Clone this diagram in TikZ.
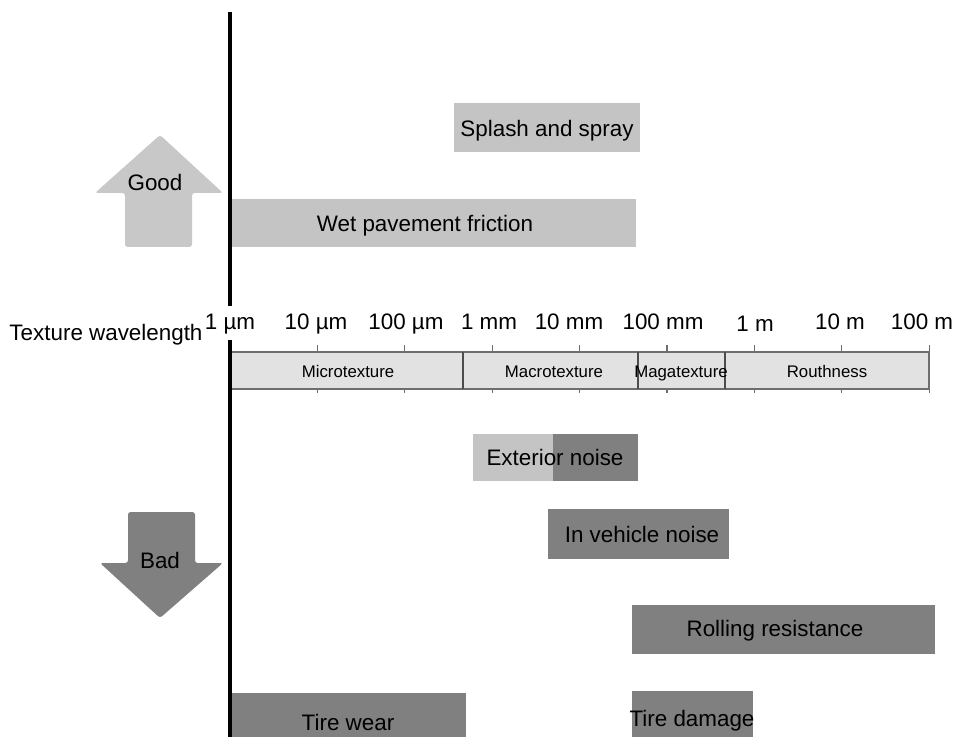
\documentclass[tikz,border=0pt]{standalone}
\usepackage{fontspec}
\setmainfont{Liberation Sans}
\usepackage{tikz}
\usetikzlibrary{positioning,calc}
\definecolor{barLight}{RGB}{196, 196, 196}
\definecolor{barDark}{RGB}{128, 128, 128}
\definecolor{rulerFill}{RGB}{226, 226, 226}
\definecolor{rulerLine}{RGB}{110, 110, 110}
\definecolor{arrowGood}{RGB}{200, 200, 200}

\begin{document}
\begin{tikzpicture}[x=0.75pt, y=-0.75pt,
    bigtext/.style={font=\fontsize{16.8pt}{19pt}\selectfont, inner sep=0pt, text height=12pt, text depth=3.5pt, yshift=-1.7pt},
    smalltext/.style={font=\fontsize{12.6pt}{14pt}\selectfont, inner sep=0pt, text height=9pt, text depth=2.5pt, yshift=-1.2pt},
    ticklabel/.style={bigtext, anchor=center}]
    \useasboundingbox (0,0) rectangle (955,737);

    % good / bad arrows
    \fill[arrowGood, rounded corners=2pt] (125,247) -- (125,193) -- (95,193) -- (160,135) -- (223,193) -- (192,193) -- (192,247) -- cycle;
    \node[bigtext] (good) at (155,183) {Good};
    \fill[barDark, rounded corners=2pt] (128,512) -- (195,512) -- (195,563) -- (223,563) -- (160,618) -- (100,563) -- (128,563) -- cycle;
    \node[bigtext] (bad) at (160,561) {Bad};

    % bars above the axis
    \fill[barLight] (454,103) rectangle (640,152);
    \node[bigtext] (splash) at (547,129) {Splash and spray};
    \fill[barLight] (230,199) rectangle (636,247);
    \node[bigtext] (friction) at (425,224) {Wet pavement friction};

    % wavelength ruler
    \fill[rulerFill] (230,352) rectangle (929,389);
    \draw[rulerLine, line width=1pt] (230,352) -- (929,352) -- (929,389) -- (230,389);
    \foreach \sx in {463,638,725}
        \draw[black!70, line width=1.2pt] (\sx,352) -- (\sx,389);
    \foreach \i in {0,...,8} {
        \draw[rulerLine, line width=0.8pt] ({230+87.4*\i},345) -- ({230+87.4*\i},352);
        \draw[rulerLine, line width=0.8pt] ({230+87.4*\i},389) -- ({230+87.4*\i},393);
    }
    \node[smalltext] (micro) at (348,372) {Microtexture};
    \node[smalltext] (macro) at (554,372) {Macrotexture};
    \node[smalltext] (mega) at (681,372) {Magatexture};
    \node[smalltext] (rough) at (827,372) {Routhness};

    \node[bigtext] (wavelength) at (106,333) {Texture wavelength};
    \node[ticklabel] (um1) at (230,322) {1 µm};
    \node[ticklabel] (um10) at (316,322) {10 µm};
    \node[ticklabel] (um100) at (406,322) {100 µm};
    \node[ticklabel] (mm1) at (489,322) {1 mm};
    \node[ticklabel] (mm10) at (569,322) {10 mm};
    \node[ticklabel] (mm100) at (663,322) {100 mm};
    \node[ticklabel] (m1) at (755,324) {1 m};
    \node[ticklabel] (m10) at (840,322) {10 m};
    \node[ticklabel] (m100) at (922,322) {100 m};

    % bars below the axis
    \fill[barLight] (473,434) rectangle (553,481);
    \fill[barDark] (553,434) rectangle (638,481);
    \node[bigtext] (exterior) at (555,458) {Exterior noise};
    \fill[barDark] (548,509) rectangle (729,559);
    \node[bigtext] (vehicle) at (642,535) {In vehicle noise};
    \fill[barDark] (632,605) rectangle (935,654);
    \node[bigtext] (rolling) at (775,629) {Rolling resistance};
    \fill[barDark] (230,693) rectangle (466,737);
    \node[bigtext] (wear) at (348,723) {Tire wear};
    \fill[barDark] (632,691) rectangle (753,737);
    \node[bigtext] (damage) at (692,719) {Tire damage};

    % vertical axis
    \draw[black, line width=2.6pt] (230,12) -- (230,306);
    \draw[black, line width=2.6pt] (230,340) -- (230,737);
\end{tikzpicture}
\end{document}
